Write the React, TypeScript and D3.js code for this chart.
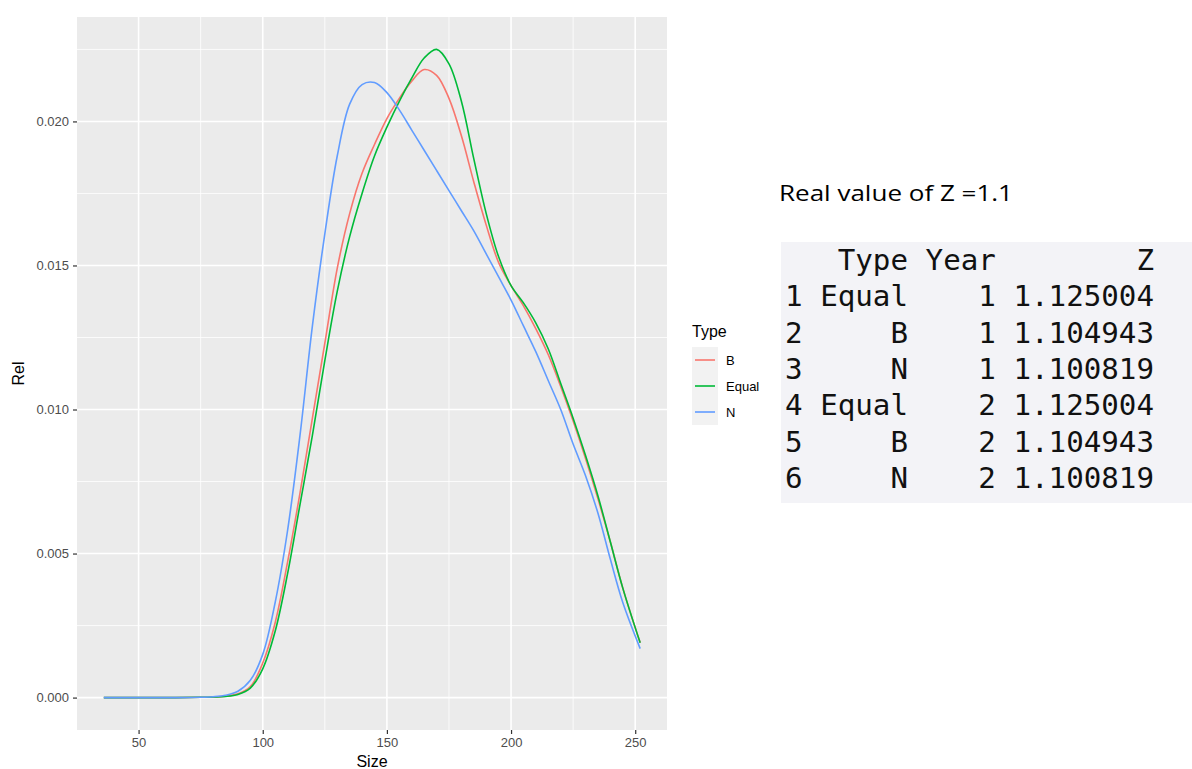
import React, { useEffect, useRef } from "react";
import * as d3 from "d3";

// density values
const sizes = [36, 50, 65, 75, 80, 85, 90, 95, 100, 105, 110, 115, 120, 125, 130, 135, 140, 145, 150, 155, 160, 165, 170, 175, 180, 185, 190, 195, 200, 205, 210, 215, 220, 225, 230, 235, 240, 245, 252];
const relB = [0, 0, 0, 0.00001, 0.00002, 0.00005, 0.00013, 0.00038, 0.0012, 0.0026, 0.0047, 0.0071, 0.0097, 0.0123, 0.0149, 0.0168, 0.0182, 0.0192, 0.0201, 0.0208, 0.0214, 0.0218, 0.0216, 0.0208, 0.0195, 0.0179, 0.0164, 0.0151, 0.0143, 0.0136, 0.0128, 0.0119, 0.0108, 0.0096, 0.0083, 0.0069, 0.0054, 0.0038, 0.0019];
const relEqual = [0, 0, 0, 0.00001, 0.00002, 0.00004, 0.00011, 0.00033, 0.001, 0.0023, 0.0043, 0.0067, 0.0091, 0.0117, 0.0141, 0.016, 0.0175, 0.0188, 0.0198, 0.0207, 0.0215, 0.0222, 0.0225, 0.022, 0.0207, 0.0187, 0.0168, 0.0153, 0.0143, 0.0137, 0.013, 0.0121, 0.0109, 0.0097, 0.0084, 0.007, 0.0054, 0.0038, 0.0019];
const relN = [0, 0, 0, 0.00001, 0.00003, 0.00008, 0.00022, 0.0006, 0.0015, 0.0033, 0.0058, 0.0091, 0.0129, 0.0161, 0.0188, 0.0206, 0.02128, 0.02135, 0.021, 0.0204, 0.0197, 0.019, 0.0183, 0.0176, 0.0169, 0.0162, 0.0154, 0.0146, 0.0138, 0.0129, 0.012, 0.011, 0.01, 0.0088, 0.0077, 0.0064, 0.0048, 0.0033, 0.0017];

const types = ["B", "Equal", "N"];
const colors = ["#F8766D", "#00BA38", "#619CFF"];

const xTicks = [50, 100, 150, 200, 250];
const xMinor = [75, 125, 175, 225];
const yTicks = [0, 0.005, 0.01, 0.015, 0.02];
const yMinor = [0.0025, 0.0075, 0.0125, 0.0175, 0.0225];

// printed data frame on the right
const tableTypes = ["Equal", "B", "N", "Equal", "B", "N"];
const tableYears = [1, 1, 1, 2, 2, 2];
const tableZ = [1.125004, 1.104943, 1.100819, 1.125004, 1.104943, 1.100819];
const realZ = 1.1;

const App = () => {
  const svgRef = useRef(null);

  useEffect(() => {
    const svg = d3.select(svgRef.current);
    svg.selectAll("*").remove();

    const left = 77, right = 667, top = 17, bottom = 730;
    const font = "'Liberation Sans', Arial, sans-serif";

    const xExt = d3.extent(sizes);
    const xPad = (xExt[1] - xExt[0]) * 0.05;
    const x = d3.scaleLinear().domain([xExt[0] - xPad, xExt[1] + xPad]).range([left, right]);
    const yMax = d3.max([...relB, ...relEqual, ...relN]);
    const y = d3.scaleLinear().domain([-yMax * 0.05, yMax * 1.05]).range([bottom, top]);

    svg.append("rect").attr("x", left).attr("y", top).attr("width", right - left).attr("height", bottom - top).attr("fill", "#EBEBEB");

    // grid
    const g = svg.append("g");
    g.selectAll(".ymin").data(yMinor).enter().append("line")
      .attr("x1", left).attr("x2", right).attr("y1", (d) => y(d)).attr("y2", (d) => y(d))
      .attr("stroke", "#fff").attr("stroke-width", 0.8);
    g.selectAll(".xmin").data(xMinor).enter().append("line")
      .attr("y1", top).attr("y2", bottom).attr("x1", (d) => x(d)).attr("x2", (d) => x(d))
      .attr("stroke", "#fff").attr("stroke-width", 0.8);
    g.selectAll(".ymaj").data(yTicks).enter().append("line")
      .attr("x1", left).attr("x2", right).attr("y1", (d) => y(d)).attr("y2", (d) => y(d))
      .attr("stroke", "#fff").attr("stroke-width", 1.6);
    g.selectAll(".xmaj").data(xTicks).enter().append("line")
      .attr("y1", top).attr("y2", bottom).attr("x1", (d) => x(d)).attr("x2", (d) => x(d))
      .attr("stroke", "#fff").attr("stroke-width", 1.6);

    // curves
    const series = [relB, relEqual, relN];
    const line = d3.line().x((d) => x(d[0])).y((d) => y(d[1])).curve(d3.curveCatmullRom.alpha(0.5));
    series.forEach((vals, i) => {
      svg.append("path")
        .attr("d", line(sizes.map((s, j) => [s, vals[j]])))
        .attr("fill", "none").attr("stroke", colors[i]).attr("stroke-width", 1.6);
    });

    // axes
    const xAxis = svg.append("g").attr("transform", `translate(0,${bottom})`)
      .call(d3.axisBottom(x).tickValues(xTicks).tickSize(4).tickPadding(4).tickFormat(d3.format("d")));
    const yAxis = svg.append("g").attr("transform", `translate(${left},0)`)
      .call(d3.axisLeft(y).tickValues(yTicks).tickSize(4).tickPadding(4).tickFormat(d3.format(".3f")));
    [xAxis, yAxis].forEach((a) => {
      a.select(".domain").remove();
      a.selectAll("line").attr("stroke", "#333").attr("stroke-width", 1.2);
      a.selectAll("text").attr("fill", "#4D4D4D").attr("font-size", 13).attr("font-family", font);
    });

    svg.append("text").attr("x", (left + right) / 2).attr("y", 767).attr("text-anchor", "middle")
      .attr("font-family", font).attr("font-size", 16).text("Size");
    svg.append("text").attr("transform", `translate(24,${(top + bottom) / 2}) rotate(-90)`).attr("text-anchor", "middle")
      .attr("font-family", font).attr("font-size", 16).text("Rel");

    // legend
    const lg = svg.append("g").attr("transform", "translate(692,347)");
    lg.append("text").attr("x", 0).attr("y", -10).attr("font-family", font).attr("font-size", 16).text("Type");
    types.forEach((t, i) => {
      const row = lg.append("g").attr("transform", `translate(0,${i * 26})`);
      row.append("rect").attr("width", 26).attr("height", 26).attr("fill", "#F2F2F2");
      row.append("line").attr("x1", 3).attr("x2", 23).attr("y1", 13).attr("y2", 13)
        .attr("stroke", colors[i]).attr("stroke-width", 1.6);
      row.append("text").attr("x", 34).attr("y", 13).attr("dy", "0.35em")
        .attr("font-family", font).attr("font-size", 13).attr("fill", "#000").text(t);
    });

    // right side text and table
    svg.append("text").attr("x", 779).attr("y", 201).attr("font-family", "'Open Sans', sans-serif")
      .attr("font-size", 22).attr("textLength", 234).attr("lengthAdjust", "spacingAndGlyphs")
      .text(`Real value of Z =${realZ}`);

    svg.append("rect").attr("x", 781).attr("y", 242).attr("width", 411).attr("height", 261).attr("fill", "#F3F3F7");
    const lines = ["  " + "Type".padStart(5) + " Year " + "Z".padStart(8)];
    tableTypes.forEach((t, i) => {
      lines.push(`${i + 1} ${t.padStart(5)} ${String(tableYears[i]).padStart(4)} ${tableZ[i].toFixed(6)}`);
    });
    svg.append("g").selectAll("text").data(lines).enter().append("text")
      .attr("x", 785).attr("y", (d, i) => 270 + i * 36.3)
      .attr("xml:space", "preserve").style("white-space", "pre")
      .attr("font-family", "'DejaVu Sans Mono', monospace").attr("font-size", 29.2).attr("fill", "#111")
      .text((d) => d);
  }, []);

  return (
    <div style={{ position: "absolute", left: 0, top: 0, background: "#fff" }}>
      <svg ref={svgRef} width={1192} height={769}></svg>
    </div>
  );
};

export default App;
